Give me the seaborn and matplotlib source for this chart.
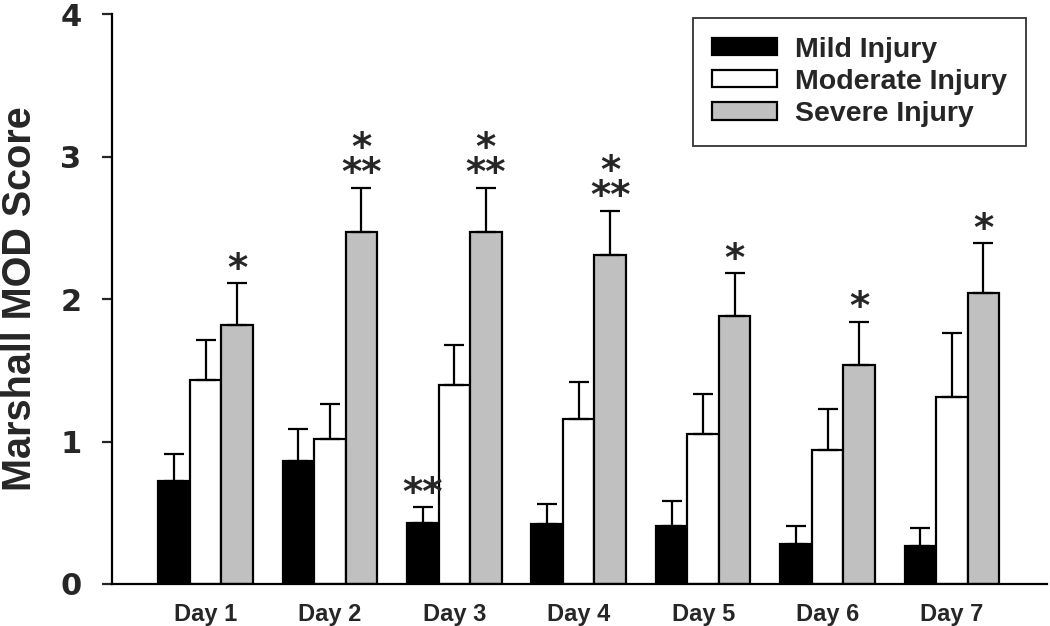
import numpy as np
import pandas as pd
import seaborn as sns
import matplotlib.pyplot as plt

# -----------------------------
# Data
# -----------------------------
days = ["Day 1", "Day 2", "Day 3", "Day 4", "Day 5", "Day 6", "Day 7"]
groups = ["Mild Injury", "Moderate Injury", "Severe Injury"]

mild = [0.72, 0.86, 0.43, 0.42, 0.41, 0.28, 0.27]
mild_err = [0.19, 0.23, 0.11, 0.14, 0.17, 0.13, 0.12]
moderate = [1.43, 1.02, 1.40, 1.16, 1.05, 0.94, 1.31]
moderate_err = [0.28, 0.24, 0.28, 0.26, 0.28, 0.29, 0.45]
severe = [1.82, 2.47, 2.47, 2.31, 1.88, 1.54, 2.04]
severe_err = [0.29, 0.31, 0.31, 0.31, 0.30, 0.30, 0.35]

# significance marks: (group, day index, label)
marks = [
    ("Severe Injury", 0, "*"),
    ("Severe Injury", 1, "*\n**"),
    ("Severe Injury", 2, "*\n**"),
    ("Severe Injury", 3, "*\n**"),
    ("Severe Injury", 4, "*"),
    ("Severe Injury", 5, "*"),
    ("Severe Injury", 6, "*"),
    ("Mild Injury", 2, "**"),
]

colors = ["#000000", "#ffffff", "#c0c0c0"]

df = pd.DataFrame({
    "day": days * 3,
    "group": [g for g in groups for _ in days],
    "score": mild + moderate + severe,
    "err": mild_err + moderate_err + severe_err,
})

# -----------------------------
# Plot
# -----------------------------
sns.set_style("ticks")
plt.rcParams["font.family"] = ["Liberation Sans", "DejaVu Sans"]
plt.rcParams["font.weight"] = "bold"

fig = plt.figure(figsize=(10.5, 6.26), dpi=100)
ax = fig.add_axes([0.1067, 0.0671, 0.8905, 0.9105])

sns.barplot(data=df, x="day", y="score", hue="group", hue_order=groups,
            palette=colors, width=0.76, errorbar=None, edgecolor="black",
            linewidth=1.6, ax=ax, saturation=1)

# error bars (upper only) on top of each bar
for g, container in zip(groups, ax.containers):
    sub = df[df["group"] == g]
    xs = [p.get_x() + p.get_width() / 2 for p in container.patches]
    hs = [p.get_height() for p in container.patches]
    ax.errorbar(xs, hs, yerr=[np.zeros(len(hs)), sub["err"].values],
                fmt="none", ecolor="black", elinewidth=1.6, capsize=7,
                capthick=1.6, zorder=1)

# asterisks above the error bar caps
for g, i, txt in marks:
    gi = groups.index(g)
    p = ax.containers[gi].patches[i]
    e = df[(df["group"] == g) & (df["day"] == days[i])]["err"].values[0]
    ax.annotate(txt, (p.get_x() + p.get_width() / 2, p.get_height() + e),
                xytext=(0, -4), textcoords="offset points",
                ha="center", va="bottom", fontsize=28, linespacing=0.58,
                fontweight="bold", family="DejaVu Sans")

ax.set_ylim(0, 4)
ax.set_xlim(-0.752, 6.765)
ax.set_yticks([0, 1, 2, 3, 4])
ax.set_xlabel("")
ax.set_ylabel("Marshall MOD Score", fontsize=28.5, fontweight="bold", labelpad=15)
ax.tick_params(axis="y", labelsize=22, length=7, width=1.6, pad=15)
ax.tick_params(axis="x", labelsize=17, length=0, pad=14)
for lab in ax.get_xticklabels():
    lab.set_fontweight("bold")
for lab in ax.get_yticklabels():
    lab.set_fontweight("bold")
    lab.set_family("DejaVu Sans")

sns.despine(ax=ax)
for s in ["left", "bottom"]:
    ax.spines[s].set_linewidth(1.6)
    ax.spines[s].set_color("black")

leg = ax.legend(loc="upper right", bbox_to_anchor=(0.977, 0.993),
                borderaxespad=0, fontsize=20.5, frameon=True, fancybox=False,
                edgecolor="black", handlelength=2.3, handleheight=0.55,
                handletextpad=0.62, labelspacing=0.22, borderpad=0.65)
leg.get_frame().set_linewidth(1.3)
for t in leg.get_texts():
    t.set_fontweight("bold")

fig.savefig("out.png", dpi=100)
